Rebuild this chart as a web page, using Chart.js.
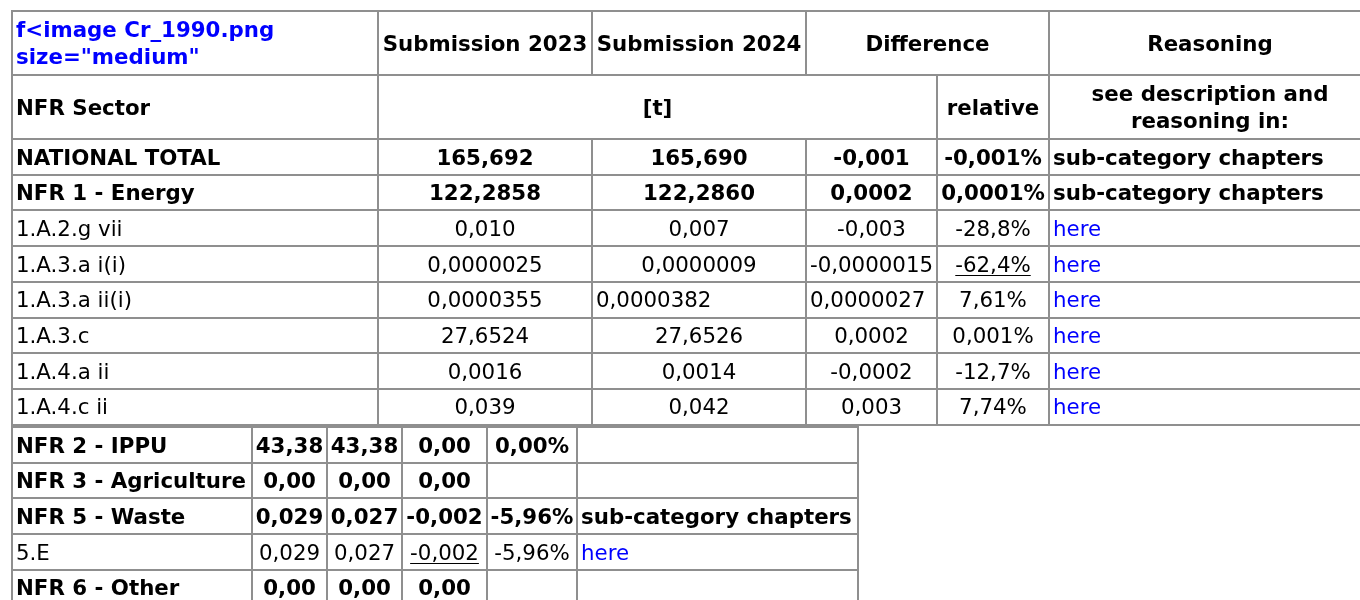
<!DOCTYPE html>
<html>
<head>
<meta charset="utf-8">
<script src="https://cdn.jsdelivr.net/npm/chart.js@4.4.1/dist/chart.umd.min.js"></script>
<style>
  html, body { margin: 0; padding: 0; background: #fff; }
  #wrap { width: 1360px; height: 600px; }
</style>
</head>
<body>
<div id="wrap"><canvas id="nfrTable" width="1360" height="600"></canvas></div>
<script>
// Header texts
const titleLines = ['f<image Cr_1990.png', 'size="medium"'];
const colHeaders = ['Submission 2023', 'Submission 2024', 'Difference', 'Reasoning'];
const subHeaders = ['NFR Sector', '[t]', 'relative', 'see description and|reasoning in:'];

// Upper table (NFR 1 and its sub-categories)
const topSectors = ['NATIONAL TOTAL', 'NFR 1 - Energy', '1.A.2.g vii', '1.A.3.a i(i)', '1.A.3.a ii(i)', '1.A.3.c', '1.A.4.a ii', '1.A.4.c ii'];
const topSub2023 = ['165,692', '122,2858', '0,010', '0,0000025', '0,0000355', '27,6524', '0,0016', '0,039'];
const topSub2024 = ['165,690', '122,2860', '0,007', '0,0000009', '0,0000382', '27,6526', '0,0014', '0,042'];
const topDiffAbs = ['-0,001', '0,0002', '-0,003', '-0,0000015', '0,0000027', '0,0002', '-0,0002', '0,003'];
const topDiffRel = ['-0,001%', '0,0001%', '-28,8%', '-62,4%', '7,61%', '0,001%', '-12,7%', '7,74%'];
const topReason = ['sub-category chapters', 'sub-category chapters', 'here', 'here', 'here', 'here', 'here', 'here'];

// Lower table (other sectors)
const lowSectors = ['NFR 2 - IPPU', 'NFR 3 - Agriculture', 'NFR 5 - Waste', '5.E', 'NFR 6 - Other'];
const lowSub2023 = ['43,38', '0,00', '0,029', '0,029', '0,00'];
const lowSub2024 = ['43,38', '0,00', '0,027', '0,027', '0,00'];
const lowDiffAbs = ['0,00', '0,00', '-0,002', '-0,002', '0,00'];
const lowDiffRel = ['0,00%', '', '-5,96%', '-5,96%', ''];
const lowReason = ['', '', 'sub-category chapters', 'here', ''];

// layout (in pixel units of the hidden linear scales)
const FS = 21.33;
const topCols = [12, 378, 592, 806, 937, 1049, 1371];
const lowCols = [12, 252, 327, 402, 487, 577, 858];
const ROW_H = 35.7;
const underlined = { 'top-4-3': true, 'low-3-3': true };
const leftAligned = { 'top-2-4': true, 'top-3-4': true };

function buildCells() {
  const cells = [];
  const add = (x0, x1, y0, y1, text, o) => cells.push(Object.assign({ x0, x1, y0, y1, text, align: 'center', bold: false, color: '#000' }, o || {}));

  // header row 1
  add(topCols[0], topCols[1], 11, 75, titleLines.join('|'), { align: 'left', bold: true, color: '#0000ff' });
  add(topCols[1], topCols[2], 11, 75, colHeaders[0], { bold: true });
  add(topCols[2], topCols[3], 11, 75, colHeaders[1], { bold: true });
  add(topCols[3], topCols[5], 11, 75, colHeaders[2], { bold: true });
  add(topCols[5], topCols[6], 11, 75, colHeaders[3], { bold: true });
  // header row 2
  add(topCols[0], topCols[1], 75, 139, subHeaders[0], { align: 'left', bold: true });
  add(topCols[1], topCols[4], 75, 139, subHeaders[1], { bold: true });
  add(topCols[4], topCols[5], 75, 139, subHeaders[2], { bold: true });
  add(topCols[5], topCols[6], 75, 139, subHeaders[3], { bold: true });

  const body = (key, cols, top, cols2) => {
    cols2[0].forEach((_, i) => {
      const y0 = top + i * ROW_H, y1 = y0 + ROW_H;
      const bold = /^(NFR|NATIONAL)/.test(cols2[0][i]);
      cols2.forEach((arr, c) => {
        const t = arr[i];
        const id = key + '-' + c + '-' + i;
        const isLink = t === 'here';
        add(cols[c], cols[c + 1], y0, y1, t, {
          align: (c === 0 || c === 5 || leftAligned[id]) ? 'left' : 'center',
          bold: bold,
          color: isLink ? '#0000ff' : '#000',
          underline: !!underlined[id]
        });
      });
    });
  };
  body('top', topCols, 139, [topSectors, topSub2023, topSub2024, topDiffAbs, topDiffRel, topReason]);
  body('low', lowCols, 427, [lowSectors, lowSub2023, lowSub2024, lowDiffAbs, lowDiffRel, lowReason]);
  return cells;
}

const tablePlugin = {
  id: 'tablePlugin',
  afterDraw(chart) {
    const ctx = chart.ctx;
    const xs = chart.scales.x, ys = chart.scales.y;
    const cells = buildCells();
    ctx.save();
    // borders
    ctx.strokeStyle = '#8f8f8f';
    ctx.lineWidth = 2;
    cells.forEach(c => {
      const x0 = Math.round(xs.getPixelForValue(c.x0)), x1 = Math.round(xs.getPixelForValue(c.x1));
      const y0 = Math.round(ys.getPixelForValue(c.y0)), y1 = Math.round(ys.getPixelForValue(c.y1));
      ctx.strokeRect(x0, y0, x1 - x0, y1 - y0);
    });
    // texts
    cells.forEach(c => {
      if (!c.text) return;
      const x0 = xs.getPixelForValue(c.x0), x1 = xs.getPixelForValue(c.x1);
      const mid = (ys.getPixelForValue(c.y0) + ys.getPixelForValue(c.y1)) / 2;
      ctx.font = (c.bold ? 'bold ' : '') + FS + 'px "DejaVu Sans"';
      ctx.fillStyle = c.color;
      ctx.textBaseline = 'alphabetic';
      const lines = c.text.split('|');
      const lh = 27.5;
      lines.forEach((ln, k) => {
        const base = mid + FS * 0.36 + (k - (lines.length - 1) / 2) * lh;
        const w = ctx.measureText(ln).width;
        const tx = c.align === 'left' ? x0 + 4 : (x0 + x1) / 2 - w / 2;
        ctx.textAlign = 'left';
        ctx.fillText(ln, tx, base);
        if (c.underline) {
          ctx.fillRect(tx, Math.round(base + 3), w, 1);
        }
      });
    });
    ctx.restore();
  }
};

new Chart(document.getElementById('nfrTable').getContext('2d'), {
  type: 'scatter',
  data: { datasets: [] },
  options: {
    responsive: false,
    animation: false,
    layout: { padding: 0 },
    scales: {
      x: { type: 'linear', min: 0, max: 1360, display: false },
      y: { type: 'linear', min: 0, max: 600, reverse: true, display: false }
    },
    plugins: { legend: { display: false }, tooltip: { enabled: false } }
  },
  plugins: [tablePlugin]
});
</script>
</body>
</html>
